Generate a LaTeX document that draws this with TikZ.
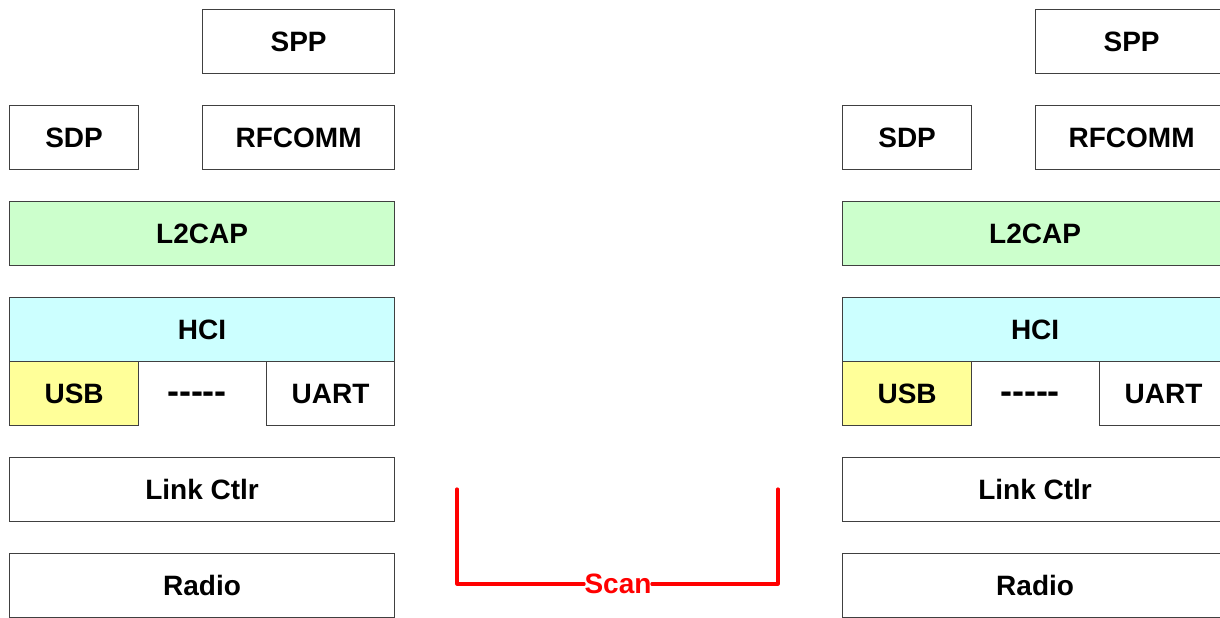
\documentclass[tikz,border=0pt]{standalone}
\usepackage{fontspec}
\setmainfont{Liberation Sans}
\definecolor{l2green}{HTML}{CCFFCC}
\definecolor{hcicyan}{HTML}{CCFFFF}
\definecolor{usbyellow}{HTML}{FFFF99}
\tikzset{
  layer/.style={draw=black!75, line width=0.6pt, anchor=north west, inner sep=0pt,
    font=\fontsize{14}{16}\selectfont\bfseries, text=black},
  l2cap/.style={layer, fill=l2green},
  hci/.style={layer, fill=hcicyan},
  usb/.style={layer, fill=usbyellow},
  scanline/.style={draw=red, line width=1.6pt, line cap=round, line join=round},
}
% one unit = one pixel of a 1220 x 617 canvas, y pointing down
\newcommand{\stack}[2]{%
  \begin{scope}[xshift=#1*0.5pt]
    \node[layer, minimum width=96pt, minimum height=32pt] (#2spp) at (202,9) {SPP};
    \node[layer, minimum width=64.5pt, minimum height=32pt] (#2sdp) at (9,105) {SDP};
    \node[layer, minimum width=96pt, minimum height=32pt] (#2rfc) at (202,105) {RFCOMM};
    \node[l2cap, minimum width=192.5pt, minimum height=32pt] (#2l2) at (9,201) {L2CAP};
    \node[hci, minimum width=192.5pt, minimum height=32pt] (#2hci) at (9,297) {HCI};
    \node[usb, minimum width=64.5pt, minimum height=32pt] (#2usb) at (9,361) {USB};
    \node[inner sep=0pt, anchor=base, font=\fontsize{18}{20}\selectfont\bfseries] (#2dots) at (197,403) {-{}-{}-{}-{}-};
    \node[layer, minimum width=64pt, minimum height=32pt] (#2uart) at (266,361) {UART};
    \node[layer, minimum width=192.5pt, minimum height=32pt] (#2lc) at (9,457) {Link Ctlr};
    \node[layer, minimum width=192.5pt, minimum height=32pt] (#2rad) at (9,553) {Radio};
  \end{scope}}
\begin{document}
\begin{tikzpicture}[x=0.5pt, y=-0.5pt]
  \useasboundingbox (0,0) rectangle (1220,617);
  \clip (0,0) rectangle (1220,617);
  \fill[white] (0,0) rectangle (1220,617);
  \stack{0}{a}
  \stack{833}{b}
  % scan bracket between the two link controllers
  \coordinate (s1) at (457,489);
  \coordinate (s2) at (457,584);
  \node[inner sep=0pt, text=red, font=\fontsize{14}{16}\selectfont\bfseries] (scan) at (618,584) {Scan};
  \coordinate (s3) at (778,584);
  \coordinate (s4) at (778,489);
  \draw[scanline] (s1) -- (s2) -- (scan.west);
  \draw[scanline] (scan.east) -- (s3) -- (s4);
\end{tikzpicture}
\end{document}
